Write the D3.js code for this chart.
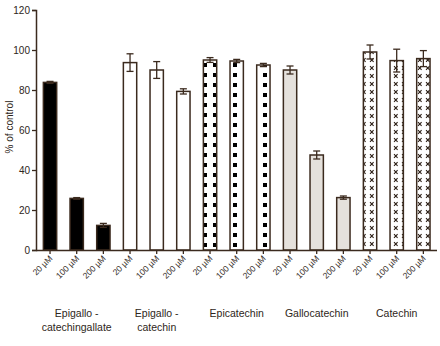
<!DOCTYPE html>
<html>
<head>
<meta charset="utf-8">
<script src="https://cdn.jsdelivr.net/npm/d3@7"></script>
<style>
  body { margin: 0; background: #fff; }
  text { font-family: "Liberation Sans", Arial, sans-serif; fill: #2e2620; }
</style>
</head>
<body>
<div id="app"></div>
<script>
// data
const compounds = ['Epigallo -\ncatechingallate', 'Epigallo -\ncatechin', 'Epicatechin', 'Gallocatechin', 'Catechin']
const doses = ['20 µM', '100 µM', '200 µM']
const means = [
  [83.8, 25.8, 12.3],
  [93.7, 90.0, 79.3],
  [95.0, 94.5, 92.5],
  [90.0, 47.5, 26.2],
  [99.0, 94.7, 95.7],
]
const errors = [
  [0.5, 0.4, 1.0],
  [4.4, 4.2, 1.3],
  [1.2, 0.8, 0.8],
  [2.0, 2.0, 0.8],
  [3.5, 5.7, 4.0],
]
const yTicks = [0, 20, 40, 60, 80, 100, 120]
const fills = ['#000', '#fff', 'url(#squares)', '#e5e1dc', 'url(#crosses)']

const ink = '#3b2a1e'
const W = 440, H = 346
const svg = d3.select('#app').append('svg').attr('width', W).attr('height', H)

const defs = svg.append('defs')
const sq = defs.append('pattern').attr('id', 'squares')
  .attr('patternUnits', 'userSpaceOnUse').attr('width', 10).attr('height', 10)
sq.append('rect').attr('width', 10).attr('height', 10).attr('fill', '#fff')
sq.append('rect').attr('x', 3).attr('y', 3).attr('width', 4).attr('height', 4).attr('fill', '#000')

const cr = defs.append('pattern').attr('id', 'crosses')
  .attr('patternUnits', 'userSpaceOnUse').attr('width', 8).attr('height', 8)
cr.append('rect').attr('width', 8).attr('height', 8).attr('fill', '#fff')
cr.append('path').attr('d', 'M2,2.2 L5.6,5.8 M5.6,2.2 L2,5.8')
  .attr('stroke', '#2a1d14').attr('stroke-width', 1.1)

const rows = []
compounds.forEach((c, i) => doses.forEach((d, j) => {
  rows.push({ key: i + '-' + j, group: i, dose: d, v: means[i][j], e: errors[i][j] })
}))

const x = d3.scaleBand().domain(rows.map(r => r.key)).range([36.7, 436.7]).paddingInner(0.5).paddingOuter(0.25)
const y = d3.scaleLinear().domain([0, 120]).range([250, 10])

// bars
svg.append('g').selectAll('rect').data(rows).join('rect')
  .attr('x', r => x(r.key))
  .attr('y', r => y(r.v))
  .attr('width', x.bandwidth())
  .attr('height', r => y(0) - y(r.v))
  .attr('fill', r => fills[r.group])
  .attr('stroke', ink)
  .attr('stroke-width', 1.5)

// error bars
const eb = svg.append('g').attr('stroke', ink).attr('stroke-width', 1.3)
rows.forEach(r => {
  const cx = x(r.key) + x.bandwidth() / 2
  eb.append('line').attr('x1', cx).attr('x2', cx).attr('y1', y(r.v - r.e)).attr('y2', y(r.v + r.e))
  eb.append('line').attr('x1', cx - 3.5).attr('x2', cx + 3.5).attr('y1', y(r.v + r.e)).attr('y2', y(r.v + r.e))
  eb.append('line').attr('x1', cx - 3.5).attr('x2', cx + 3.5).attr('y1', y(r.v - r.e)).attr('y2', y(r.v - r.e))
})

// y axis
const yAxis = svg.append('g').attr('transform', 'translate(36,0)')
  .call(d3.axisLeft(y).tickValues(yTicks).tickSize(4).tickPadding(2))
yAxis.select('.domain').attr('stroke', ink).attr('stroke-width', 1.5)
yAxis.selectAll('.tick line').attr('stroke', ink).attr('stroke-width', 1.3)
yAxis.selectAll('.tick text').attr('font-size', 10).attr('font-family', '"Liberation Sans", Arial, sans-serif').attr('fill', '#2e2620')

svg.append('text')
  .attr('transform', 'translate(13,127) rotate(-90)')
  .attr('text-anchor', 'middle')
  .attr('font-size', 10)
  .text('% of control')

// x axis
const xAxis = svg.append('g').attr('transform', 'translate(0,250)')
  .call(d3.axisBottom(x).tickSize(4).tickSizeOuter(0).tickFormat(k => rows.find(r => r.key === k).dose))
xAxis.select('.domain').attr('stroke', ink).attr('stroke-width', 1.5).attr('d', 'M36,0.5H437')
xAxis.selectAll('.tick line').attr('stroke', ink).attr('stroke-width', 1.3)
xAxis.selectAll('.tick text')
  .attr('font-size', 8.5)
  .attr('font-family', '"Liberation Sans", Arial, sans-serif')
  .attr('fill', '#2e2620')
  .attr('text-anchor', 'end')
  .attr('dy', null)
  .attr('y', 0)
  .attr('transform', 'translate(3,9) rotate(-45)')

// group labels
compounds.forEach((c, i) => {
  const first = x(i + '-0'), last = x(i + '-2') + x.bandwidth()
  const t = svg.append('text')
    .attr('x', (first + last) / 2)
    .attr('y', 317)
    .attr('text-anchor', 'middle')
    .attr('font-size', 10.5)
  c.split('\n').forEach((ln, k) => {
    t.append('tspan').attr('x', (first + last) / 2).attr('dy', k === 0 ? 0 : 14).text(ln)
  })
})
</script>
</body>
</html>
